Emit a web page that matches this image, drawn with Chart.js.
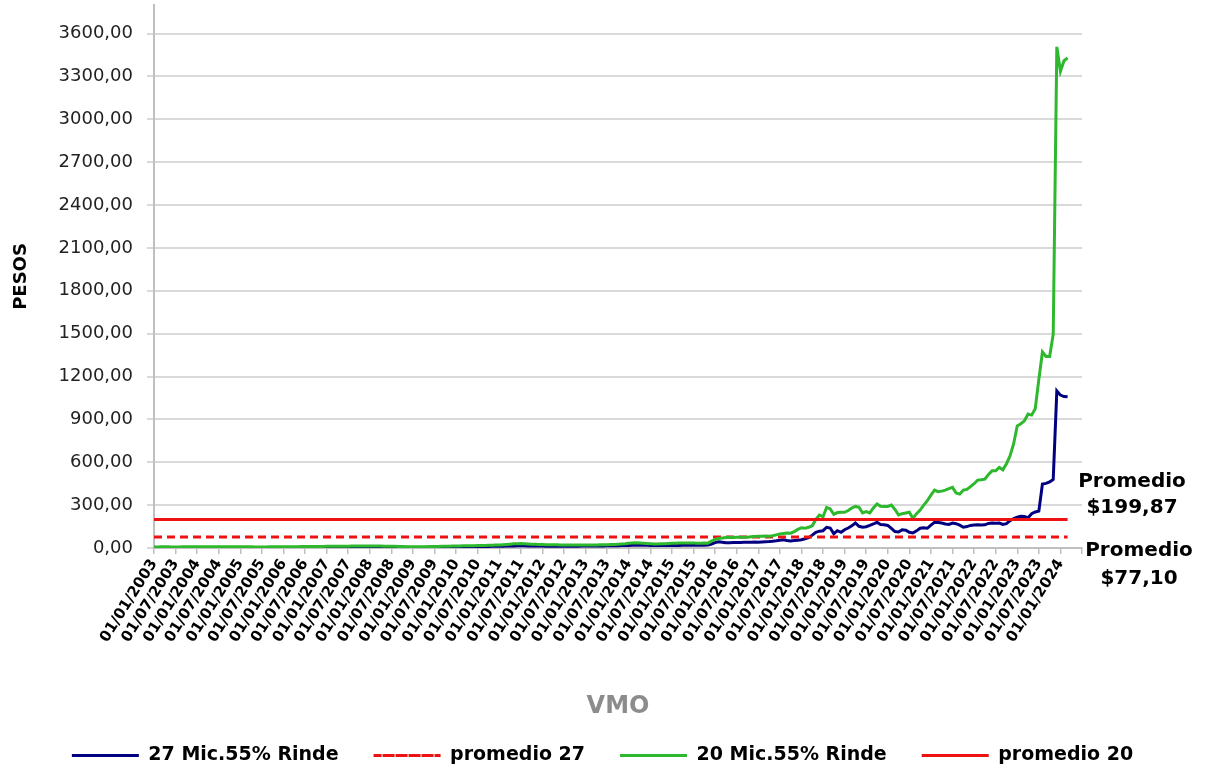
<!DOCTYPE html>
<html>
<head>
<meta charset="utf-8">
<script src="https://cdn.jsdelivr.net/npm/chart.js@4/dist/chart.umd.min.js"></script>
<style>
  body { margin: 0; background: #fff; }
  #wrap { width: 1205px; height: 767px; }
</style>
</head>
<body>
<div id="wrap"><canvas id="vmoChart" width="1205" height="767"></canvas></div>
<script>
/******************************************************************
DATA (monthly, 01/01/2003 - 01/03/2024)
******************************************************************/

var firstYear = 2003;
var axisMonths = 259; // axis runs to 01/07/2024

// 27 Mic.55% Rinde
var rinde27 = [
  3.0, 3.1, 3.2, 3.3, 3.2, 3.1, 3.0, 3.0, 3.1, 3.2, 3.4, 3.5,          // 2003
  3.6, 3.7, 3.6, 3.5, 3.4, 3.3, 3.2, 3.2, 3.3, 3.4, 3.5, 3.5,          // 2004
  3.5, 3.4, 3.3, 3.2, 3.1, 3.1, 3.0, 3.1, 3.2, 3.3, 3.4, 3.5,          // 2005
  3.6, 3.7, 3.8, 3.9, 4.0, 4.1, 4.2, 4.3, 4.4, 4.5, 4.6, 4.7,          // 2006
  4.8, 5.0, 5.2, 5.4, 5.6, 5.8, 6.0, 6.2, 6.4, 6.5, 6.6, 6.8,          // 2007
  7.0, 6.9, 6.8, 6.6, 6.4, 6.2, 6.0, 5.8, 5.5, 5.0, 4.6, 4.3,          // 2008
  4.2, 4.1, 4.0, 4.2, 4.4, 4.7, 5.0, 5.3, 5.6, 6.0, 6.4, 6.8,          // 2009
  7.2, 7.6, 8.0, 8.4, 8.8, 9.2, 9.6, 10.0, 10.5, 11.0, 11.5, 12.0,     // 2010
  12.5, 13.0, 13.5, 14.0, 14.5, 15.0, 15.2, 15.0, 14.6, 14.2, 13.8, 13.5, // 2011
  13.2, 13.0, 12.8, 12.6, 12.5, 12.4, 12.3, 12.4, 12.6, 12.8, 13.0, 13.2, // 2012
  13.4, 13.6, 13.8, 14.0, 14.4, 14.8, 15.2, 15.6, 16.0, 16.5, 17.0, 17.5, // 2013
  18.0, 18.5, 19.0, 19.0, 18.8, 18.5, 18.2, 18.0, 17.8, 17.6, 17.5, 17.6, // 2014
  17.8, 18.0, 18.2, 18.5, 18.8, 19.0, 19.2, 19.5, 19.8, 20.0, 20.5, 28.0, // 2015
  38, 44, 40, 36, 37, 38, 38, 39, 40, 40, 41, 42,                      // 2016
  40, 42, 44, 45, 47, 50, 54, 58, 52, 49, 52, 55,                      // 2017
  58, 65, 72, 90, 110, 118, 121, 145, 140, 100, 121, 110,              // 2018
  128, 140, 155, 175, 152, 145, 149, 158, 168, 180, 165, 163,          // 2019
  158, 138, 115, 112, 128, 125, 110, 105, 120, 138, 142, 138,          // 2020
  160, 180, 178, 175, 168, 165, 175, 170, 160, 145, 150, 158,          // 2021
  161, 162, 161, 162, 172, 175, 174, 175, 165, 170, 191, 205,          // 2022
  215, 222, 220, 212, 240, 252, 258, 447, 452, 462, 480, 1100,         // 2023
  1070, 1060, 1058                                                     // 2024
];

// 20 Mic.55% Rinde
var rinde20 = [
  7.5, 7.8, 8.0, 8.2, 8.0, 7.6, 7.4, 7.5, 7.9, 8.3, 8.6, 8.8,          // 2003
  9.0, 9.2, 9.1, 8.8, 8.5, 8.2, 8.0, 7.9, 8.1, 8.4, 8.6, 8.7,          // 2004
  8.6, 8.4, 8.2, 8.0, 7.8, 7.7, 7.6, 7.8, 8.0, 8.3, 8.5, 8.6,          // 2005
  8.8, 9.0, 9.3, 9.5, 9.6, 9.8, 10.0, 10.2, 10.5, 10.8, 11.0, 11.2,    // 2006
  11.5, 11.8, 12.0, 12.3, 12.5, 12.8, 13.0, 13.2, 13.5, 13.6, 13.8, 14.0, // 2007
  14.2, 14.0, 13.8, 13.5, 13.0, 12.5, 12.0, 11.5, 11.0, 10.2, 9.5, 9.0, // 2008
  8.8, 8.6, 8.5, 8.8, 9.2, 9.8, 10.5, 11.0, 11.6, 12.2, 12.8, 13.5,    // 2009
  14.0, 14.5, 15.0, 15.5, 16.0, 16.5, 17.0, 17.5, 18.0, 18.8, 19.5, 20.5, // 2010
  21.5, 23.0, 25.0, 27.0, 29.0, 30.5, 31.0, 30.0, 28.5, 27.0, 25.5, 24.5, // 2011
  24.0, 23.5, 23.0, 22.5, 22.0, 21.5, 21.0, 21.0, 21.5, 21.5, 21.0, 21.0, // 2012
  21.0, 21.0, 21.5, 21.5, 22.0, 22.5, 23.0, 24.0, 25.0, 26.5, 28.0, 30.0, // 2013
  33.0, 35.0, 36.0, 35.0, 33.0, 31.0, 29.5, 28.5, 28.0, 29.0, 30.5, 32.0, // 2014
  33.0, 34.0, 34.5, 35.0, 35.5, 35.0, 34.5, 34.0, 34.0, 34.5, 34.0, 48.0, // 2015
  60, 66, 70, 74, 75, 74, 75, 76, 75, 76, 78, 80,                      // 2016
  82, 82, 84, 82, 86, 92, 98, 102, 105, 104, 115, 130,                 // 2017
  142, 138, 145, 156, 200, 231, 219, 284, 273, 235, 248, 250,          // 2018
  250, 262, 280, 291, 285, 245, 254, 245, 280, 308, 292, 291,          // 2019
  291, 300, 270, 231, 240, 245, 250, 207, 240, 265, 300, 331,          // 2020
  370, 405, 394, 398, 405, 415, 424, 385, 377, 405, 410, 430,          // 2021
  450, 475, 478, 482, 515, 540, 540, 564, 547, 590, 645, 730,          // 2022
  855, 870, 890, 937, 930, 975, 1180, 1372, 1340, 1340, 1496, 3507,    // 2023
  3336, 3410, 3430                                                     // 2024
];

var promedio27 = 77.10;
var promedio20 = 199.87;

var yMax = 3800;
var yStep = 300;

/******************************************************************
CATEGORIES
******************************************************************/

var categories = [];
for (var i = 0; i < axisMonths; i++) {
  var mm = (i % 12) + 1;
  var yy = firstYear + Math.floor(i / 12);
  categories.push("01/" + (mm < 10 ? "0" + mm : mm) + "/" + yy);
}

var lastDataIndex = rinde27.length - 1;
var prom27Line = rinde27.map(function () { return promedio27; });
var prom20Line = rinde20.map(function () { return promedio20; });

function fmtComma(v) {
  return v.toFixed(2).replace(".", ",");
}

function noPadding(scale) {
  scale.paddingTop = 0;
  scale.paddingBottom = 0;
  scale.paddingLeft = 0;
  scale.paddingRight = 0;
}

/******************************************************************
PROMEDIO TEXT BOXES
******************************************************************/

var promedioNotes = {
  id: "promedioNotes",
  afterDraw: function (chart) {
    var ctx = chart.ctx;
    var area = chart.chartArea;
    var y = chart.scales.y;
    ctx.save();
    ctx.fillStyle = "#000";
    ctx.font = "bold 20px 'DejaVu Sans'";
    ctx.textAlign = "center";
    ctx.textBaseline = "middle";
    var y20 = y.getPixelForValue(promedio20);
    ctx.fillText("Promedio", area.right + 50, y20 - 38);
    ctx.fillText("$" + fmtComma(promedio20), area.right + 50, y20 - 12);
    var y27 = y.getPixelForValue(promedio27);
    ctx.fillText("Promedio", area.right + 57, y27 + 14);
    ctx.fillText("$" + fmtComma(promedio27), area.right + 57, y27 + 42);
    ctx.restore();
  }
};

/******************************************************************
CHART
******************************************************************/

var chartCtx = document.getElementById("vmoChart").getContext("2d");

new Chart(chartCtx, {
  type: "line",
  data: {
    labels: categories,
    datasets: [{
      label: "promedio 20",
      data: prom20Line,
      borderColor: "#ee1111",
      backgroundColor: "#ee1111",
      borderWidth: 3
    }, {
      label: "20 Mic.55% Rinde",
      data: rinde20,
      borderColor: "#2db82d",
      backgroundColor: "#2db82d",
      borderWidth: 3
    }, {
      label: "promedio 27",
      data: prom27Line,
      borderColor: "#ee1111",
      backgroundColor: "#ee1111",
      borderWidth: 3,
      borderDash: [8, 5]
    }, {
      label: "27 Mic.55% Rinde",
      data: rinde27,
      borderColor: "#000080",
      backgroundColor: "#000080",
      borderWidth: 3
    }]
  },
  options: {
    responsive: false,
    animation: false,
    devicePixelRatio: 1,
    elements: {
      point: { radius: 0 },
      line: { tension: 0 }
    },
    layout: {
      padding: { left: 0, right: 0, top: 5, bottom: -8 }
    },
    plugins: {
      tooltip: { enabled: false },
      legend: {
        position: "bottom",
        reverse: true,
        labels: {
          boxWidth: 67,
          boxHeight: 0,
          padding: 35,
          color: "#000",
          font: { family: "'DejaVu Sans'", size: 19, weight: "bold" }
        }
      }
    },
    scales: {
      x: {
        type: "category",
        afterFit: function (scale) { scale.height = 163; noPadding(scale); },
        border: { display: true, color: "#bfbfbf", width: 2 },
        grid: {
          drawOnChartArea: false,
          drawTicks: true,
          tickLength: 6,
          lineWidth: 1.5,
          color: function (c) {
            return c.index % 6 === 0 ? "#bfbfbf" : "rgba(0,0,0,0)";
          }
        },
        ticks: {
          autoSkip: false,
          minRotation: 58,
          maxRotation: 58,
          padding: 2,
          color: "#000",
          font: { family: "'DejaVu Sans'", size: 15, weight: "bold" },
          callback: function (value, index) {
            return (index % 6 === 0 && index <= lastDataIndex) ? this.getLabelForValue(value) : "";
          }
        },
        title: {
          display: true,
          text: "VMO",
          color: "#8c8c8c",
          padding: { top: 0, bottom: -10 },
          font: { family: "'DejaVu Sans'", size: 24, weight: "bold" }
        }
      },
      y: {
        min: 0,
        max: yMax,
        afterFit: function (scale) { scale.width = 154; noPadding(scale); },
        afterBuildTicks: function (scale) {
          scale.ticks = scale.ticks.filter(function (t) { return t.value % yStep === 0; });
        },
        border: { display: true, color: "#bfbfbf", width: 2 },
        grid: {
          color: "#d9d9d9",
          lineWidth: 2,
          tickLength: 7
        },
        ticks: {
          stepSize: yStep,
          padding: 14,
          color: "#222",
          font: { family: "'DejaVu Sans'", size: 18 },
          callback: function (v) { return fmtComma(v); }
        },
        title: {
          display: true,
          text: "PESOS",
          color: "#000",
          padding: { top: 11, bottom: 0 },
          font: { family: "'DejaVu Sans'", size: 18, weight: "bold" }
        }
      },
      // empty right-hand strip that holds the "Promedio" notes
      notes: {
        type: "linear",
        position: "right",
        display: true,
        afterFit: function (scale) { scale.width = 123; noPadding(scale); },
        border: { display: false },
        grid: { display: false },
        ticks: { display: false }
      }
    }
  },
  plugins: [promedioNotes]
});
</script>
</body>
</html>
